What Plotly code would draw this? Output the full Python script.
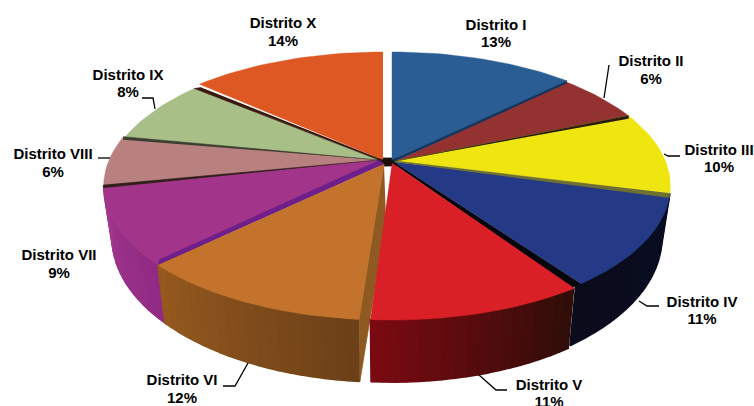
import math
import plotly.graph_objects as go

districts = ["Distrito I", "Distrito II", "Distrito III", "Distrito IV", "Distrito V",
             "Distrito VI", "Distrito VII", "Distrito VIII", "Distrito IX", "Distrito X"]
shares = [13, 6, 10, 11, 11, 12, 9, 6, 8, 14]

top_colors = ["#2a5d93", "#933231", "#efe611", "#243a86", "#d92027",
              "#c3732c", "#a23489", "#b98080", "#a8c088", "#de5823"]
# wall gradient, start and end colour following the slice clockwise
wall_colors = {3: ("#0a0d22", "#0a0c1c"), 4: ("#2e0d08", "#7c0a12"),
               5: ("#6b4018", "#96591f"), 6: ("#8f2a85", "#a4388c")}
# seam along the clockwise edge of a slice: colour, tip offset
seams = {0: ("#0f3560", -1, 3), 1: ("#2a1a10", 0, 3), 2: ("#6f7030", -1, 4),
         3: ("#05060c", -9, 4), 5: ("#6f1f8a", 2, -6), 6: ("#30201a", 0, 3),
         7: ("#3a4030", 0, 3), 8: ("#3a1a10", 7, -1)}
under_top = [3, 5]
apex_dx = [4, 8, 8, 6, 4, -4, -9, -9, -9, -5]
apex_dy = [0, 1, 1, 2, 3, 4, 0, 0, 0, 0]
rim_dx = [4, 0, 0, 0, 4, -2, -2, -2, 0, -5]
inset_start = [0, 0, 0, 0, 2.5, 0.9, -2, 0, 0, 2]
inset_end = [1, 0, 0, 0, 0, 1.5, 0, 0, 1.2, 0]
wall_extend = {3: 1.3}
draw_order = [9, 8, 0, 1, 7, 2, 6, 3, 5, 4]

CX, CY, A, B, K, H, SHRINK = 388, 160, 277, 129, 0.194, 50, 0.97


def project(deg, dx=0, low=False):
    t = math.radians(deg)
    u, v = math.sin(t), -math.cos(t)
    den = 1 - K * v
    x = A * u / den
    y = B * v / den
    if low:
        x *= SHRINK
        y += H / den
    return CX + x + dx, CY + y


def mix(c1, c2, f):
    a = [int(c1[i:i + 2], 16) for i in (1, 3, 5)]
    b = [int(c2[i:i + 2], 16) for i in (1, 3, 5)]
    return "#%02x%02x%02x" % tuple(round(p + (q - p) * f) for p, q in zip(a, b))


def poly(fig, xs, ys, color, edge=0.8):
    fig.add_trace(go.Scatter(x=xs, y=ys, mode="lines", fill="toself", fillcolor=color,
                             line=dict(color=color, width=edge), hoverinfo="skip",
                             showlegend=False))


fig = go.Figure()
edges = [0]
for s in shares:
    edges.append(edges[-1] + s)
total = edges[-1]


def bounds(i):
    return edges[i] / total * 360 + inset_start[i], edges[i + 1] / total * 360 - inset_end[i]


def seam(i):
    col, tx, ty = seams[i]
    nxt = (i + 1) % len(shares)
    e = project(bounds(i)[1], rim_dx[i])
    poly(fig, [CX + apex_dx[nxt], CX + apex_dx[i], e[0], e[0] + tx],
         [CY + apex_dy[nxt], CY + apex_dy[i], e[1], e[1] + ty], col, 0.6)


# dark hub where the slices meet
poly(fig, [378, 397, 397, 378], [158, 158, 166, 166], "#1a1008")

for i in draw_order:
    a0, a1 = bounds(i)
    n = max(6, int((a1 - a0) / 2))
    angs = [a0 + (a1 - a0) * k / n for k in range(n + 1)]
    rdx = rim_dx[i]
    if i == 5:  # cut face seen through the gap next to slice V
        p0 = project(a0, rdx)
        p1 = project(a0, rdx, low=True)
        poly(fig, [CX + apex_dx[i], p0[0], p1[0], CX + apex_dx[i] + 2],
             [CY + apex_dy[i], p0[1], p1[1], CY + 60], "#8f5a22")
    if i in wall_colors:
        c0, c1 = wall_colors[i]
        ext = wall_extend.get(i, 0)
        wangs = [a0 + (a1 + ext - a0) * k / n for k in range(n + 1)]
        for k in range(n):
            p = project(wangs[k], rdx)
            q = project(wangs[k + 1], rdx)
            r = project(wangs[k + 1], rdx, low=True)
            s = project(wangs[k], rdx, low=True)
            poly(fig, [p[0], q[0], r[0], s[0]], [p[1], q[1], r[1], s[1]],
                 mix(c0, c1, (k + 0.5) / n), 1.6)
    if i in under_top:
        seam(i)
    rim = [project(a, rdx) for a in angs]
    poly(fig, [CX + apex_dx[i]] + [p[0] for p in rim],
         [CY + apex_dy[i]] + [p[1] for p in rim], top_colors[i], 0.4)

for i in seams:
    if i not in under_top:
        seam(i)

name_x = [496, 651, 719, 702, 549, 182, 59, 53, 128, 283]
name_y = [26, 62, 151, 303, 386, 381, 256, 155, 76, 24]
pct_y = [43, 80, 168, 320, 403, 399, 274, 173, 93, 42]
fig.add_trace(go.Scatter(x=name_x, y=name_y, mode="text", text=districts, cliponaxis=False,
                         textfont=dict(family="Liberation Sans", size=15, color="black", weight="bold"),
                         hoverinfo="skip", showlegend=False))
fig.add_trace(go.Scatter(x=name_x, y=pct_y, mode="text", text=[f"{s}%" for s in shares],
                         cliponaxis=False,
                         textfont=dict(family="Liberation Sans", size=15, color="black", weight="bold"),
                         hoverinfo="skip", showlegend=False))

leaders = [
    ([609, 604], [65, 98]),
    ([664, 668, 680], [154, 156, 156]),
    ([639, 647, 659], [301, 306, 306]),
    ([479, 496, 507], [375, 390, 390]),
    ([248, 235, 223], [363, 386, 386]),
    ([98, 110], [158, 158]),
    ([142, 153, 155], [98, 98, 109]),
]
for lx, ly in leaders:
    fig.add_trace(go.Scatter(x=lx, y=ly, mode="lines", line=dict(color="black", width=1.3),
                             hoverinfo="skip", showlegend=False))

fig.update_layout(
    width=754, height=406, margin=dict(l=0, r=0, t=0, b=0),
    paper_bgcolor="white", plot_bgcolor="white", showlegend=False,
    xaxis=dict(range=[0, 754], visible=False, fixedrange=True),
    yaxis=dict(range=[406, 0], visible=False, fixedrange=True),
)
fig.write_html("out.html", config={"displayModeBar": False},
               post_script="document.body.style.margin='0';document.body.style.overflow='hidden';")
